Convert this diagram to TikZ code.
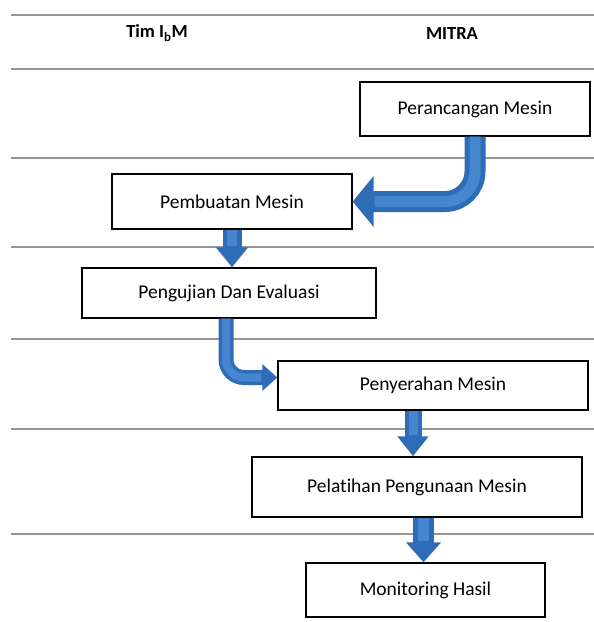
\documentclass[tikz,border=0pt]{standalone}
\usepackage{fontspec}
\setmainfont{Carlito}[Ligatures=NoCommon]
\usetikzlibrary{arrows.meta}
\definecolor{arrowblue}{RGB}{46,108,184}
\definecolor{arrowlight}{RGB}{70,134,206}
\definecolor{rulegray}{RGB}{150,150,150}
\begin{document}
\begin{tikzpicture}[x=1pt,y=-1pt,
  box/.style={draw=black,line width=1.4pt,fill=white,inner sep=0pt,
    font=\fontsize{19.5}{22}\selectfont},
  head/.style={font=\bfseries\fontsize{18.5}{21}\selectfont},
  rule/.style={draw=rulegray,line width=1.3pt},
  blockarrow/.style={draw=arrowblue,line cap=butt},
  shine/.style={draw=arrowlight,line cap=butt}
]
\useasboundingbox (0,0) rectangle (594,622);
% horizontal rules
\foreach \yy in {15,69,158,247,339,429,534}
  \draw[rule] (11,\yy) -- (594,\yy);
% headers
\node[head] (tim) at (157,33) {Tim I\textsubscript{b}M};
\node[head] (mitra) at (452,33) {MITRA};
% boxes
\node[box,minimum width=230pt,minimum height=54pt] (pera) at (475,109) {Perancangan Mesin};
\node[box,minimum width=240pt,minimum height=55pt] (pemb) at (232,201.5) {Pembuatan Mesin};
\node[box,minimum width=294pt,minimum height=50pt] (peng) at (229,293) {Pengujian Dan Evaluasi};
\node[box,minimum width=310pt,minimum height=49pt] (peny) at (433,385.5) {Penyerahan Mesin};
\node[box,minimum width=330pt,minimum height=60pt] (pela) at (417,487) {Pelatihan Pengunaan Mesin};
\node[box,minimum width=239pt,minimum height=54pt] (moni) at (425.5,590) {Monitoring Hasil};
% arrows
\draw[blockarrow,line width=21pt,rounded corners=30pt,
  -{Triangle[width=50pt,length=21pt]}] (pera.south) |- (pemb.east);
\draw[shine,line width=11pt,rounded corners=30pt,shorten >=22pt]
  (pera.south) |- (pemb.east);
\draw[blockarrow,line width=19pt,-{Triangle[width=31pt,length=20pt]}]
  (pemb.south) -- (pemb.south |- peng.north);
\draw[shine,line width=10pt,shorten >=21pt]
  (pemb.south) -- (pemb.south |- peng.north);
\draw[blockarrow,line width=15pt,rounded corners=18pt,
  -{Triangle[width=26pt,length=15pt]}]
  ([xshift=-3pt]peng.south) |- ([yshift=8pt]peny.west);
\draw[shine,line width=8pt,rounded corners=18pt,shorten >=16pt]
  ([xshift=-3pt]peng.south) |- ([yshift=8pt]peny.west);
\draw[blockarrow,line width=17pt,-{Triangle[width=30pt,length=20pt]}]
  ([xshift=-4pt]pela.north |- peny.south) -- ([xshift=-4pt]pela.north);
\draw[shine,line width=9pt,shorten >=21pt]
  ([xshift=-4pt]pela.north |- peny.south) -- ([xshift=-4pt]pela.north);
\draw[blockarrow,line width=21pt,-{Triangle[width=34pt,length=20pt]}]
  ([xshift=-2pt]moni.north |- pela.south) -- ([xshift=-2pt]moni.north);
\draw[shine,line width=11pt,shorten >=21pt]
  ([xshift=-2pt]moni.north |- pela.south) -- ([xshift=-2pt]moni.north);
\end{tikzpicture}
\end{document}
